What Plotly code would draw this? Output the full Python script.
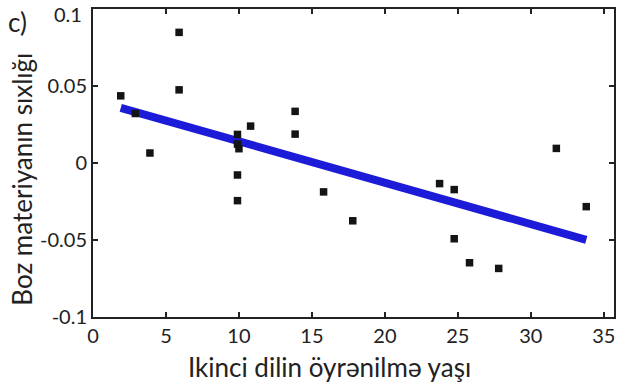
import plotly.graph_objects as go

age = [1.9, 2.9, 3.9, 5.9, 5.9, 9.9, 9.9, 10.0, 9.9, 9.9, 10.8, 13.85, 13.85,
       15.8, 17.8, 23.75, 24.75, 24.75, 25.8, 27.8, 31.75, 33.8]
density = [0.0437, 0.0322, 0.0065, 0.085, 0.0476, 0.0186, 0.0123, 0.0093, -0.0078, -0.0245,
           0.024, 0.0336, 0.0188, -0.0188, -0.0376, -0.0134, -0.0173, -0.0493, -0.0649,
           -0.0686, 0.0095, -0.0284]
fit_x = [1.9, 33.8]
fit_y = [0.0359, -0.0500]

xticks = [0, 5, 10, 15, 20, 25, 30, 35]
yticks = [-0.1, -0.05, 0, 0.05, 0.1]
ytick_text = ["-0.1", "-0.05", "0", "0.05", "0.1"]

FONT = "Lato"
INK = "#222222"

fig = go.Figure()
fig.add_trace(go.Scatter(x=fit_x, y=fit_y, mode="lines",
                         line=dict(color="#1c1cd8", width=8), showlegend=False))
fig.add_trace(go.Scatter(x=age, y=density, mode="markers",
                         marker=dict(symbol="square", size=7.5, color="#141414"),
                         showlegend=False))

axis_common = dict(showgrid=False, zeroline=False, showline=True, linecolor=INK,
                   linewidth=2, mirror="allticks", ticks="inside", ticklen=5, tickwidth=2,
                   tickcolor=INK, tickfont=dict(family=FONT, size=20, color=INK),
                   automargin=False)

fig.update_xaxes(range=[0, 35.7], tickvals=xticks, ticktext=[str(t) for t in xticks],
                 **axis_common)
fig.update_yaxes(range=[-0.1002, 0.1002], tickvals=yticks,
                 ticktext=ytick_text[:-1] + [" "], **axis_common)

def px(p):
    return (p - 93) / 522

def py(p):
    return (317 - p) / 308

fig.add_annotation(text=ytick_text[-1], xref="paper", yref="paper", x=px(84), y=py(14),
                   xanchor="right", yanchor="middle", showarrow=False,
                   font=dict(family=FONT, size=20, color=INK))
fig.add_annotation(text="Ikinci dilin öyrənilmə yaşı", xref="paper", yref="paper",
                   x=px(330), y=py(366.5), xanchor="center", yanchor="middle", showarrow=False,
                   font=dict(family=FONT, size=26, color=INK))
fig.add_annotation(text="Boz materiyanın sıxlığı", xref="paper", yref="paper",
                   x=px(21.5), y=py(179), xanchor="center", yanchor="middle", showarrow=False,
                   textangle=-90, font=dict(family=FONT, size=26, color=INK))
fig.add_annotation(text="c)", xref="paper", yref="paper", x=px(6), y=py(4), xanchor="left", yanchor="top",
                   showarrow=False, font=dict(family=FONT, size=26, color=INK))

fig.update_layout(width=617, height=385, margin=dict(l=93, r=3, t=9, b=68, autoexpand=False),
                  plot_bgcolor="white", paper_bgcolor="white")

fig.write_html("out.html")
